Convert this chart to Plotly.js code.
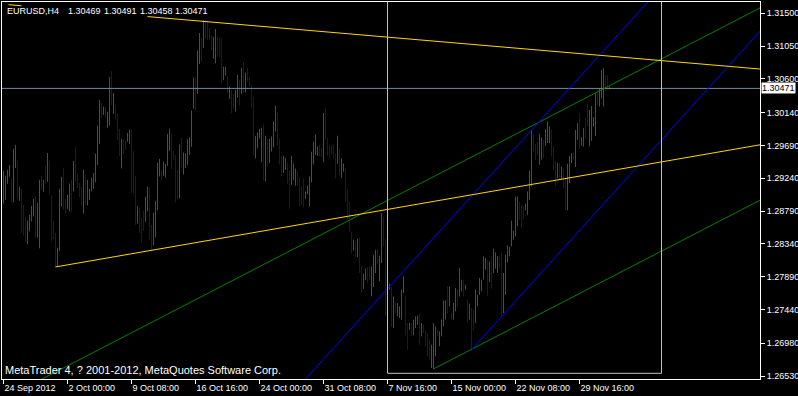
<!DOCTYPE html>
<html><head><meta charset="utf-8">
<script src="https://cdn.plot.ly/plotly-3.0.1.min.js"></script>
<style>html,body{margin:0;padding:0;background:#000;overflow:hidden}</style>
</head><body><div id="chart" style="width:798px;height:396px"></div>
<script>
// ---- data: H4 bars (index 0 = 24 Sep 2012), high / low, direction (1 = up/red, 0 = down/blue)
const highs = [
1.29342,1.29274,1.29356,1.29424,1.29233,1.29643,1.29698,1.29479,1.29123,1.29096,
1.28877,1.28713,1.28658,1.28740,1.28863,1.28959,1.28991,1.28904,1.29219,1.29274,
1.29219,1.29411,1.29588,1.29479,1.29000,1.28658,1.28494,1.28289,1.29096,1.29260,
1.29383,1.28959,1.29014,1.29164,1.29219,1.29479,1.29670,1.29301,1.29178,1.29123,
1.29356,1.29287,1.29219,1.29096,1.29246,1.29315,1.29579,1.29962,1.30313,1.30272,
1.30222,1.30218,1.30149,1.30628,1.30710,1.30409,1.30245,1.30122,1.29917,1.29780,
1.29767,1.29753,1.29862,1.29903,1.29903,1.29616,1.29274,1.28864,1.28836,1.28700,
1.28795,1.28987,1.29124,1.29110,1.28604,1.28768,1.28932,1.29452,1.29507,1.29356,
1.29466,1.29438,1.29849,1.29922,1.29849,1.29616,1.29561,1.29356,1.29703,1.29794,
1.29593,1.29580,1.29771,1.29799,1.30168,1.30619,1.30619,1.30989,1.31230,1.31167,
1.31408,1.31408,1.31395,1.31299,1.31189,1.31180,1.31285,1.31180,1.31167,1.31162,
1.30770,1.30765,1.30642,1.30496,1.30451,1.30382,1.30451,1.30656,1.30587,1.30752,
1.30834,1.30688,1.30752,1.30624,1.30524,1.30355,1.29821,1.29867,1.29917,1.29931,
1.29972,1.29821,1.29780,1.29780,1.29812,1.30017,1.30232,1.30141,1.29780,1.29539,
1.29548,1.29520,1.29457,1.29347,1.29548,1.29443,1.29374,1.29347,1.29247,1.29128,
1.29238,1.29060,1.29137,1.29265,1.29602,1.29739,1.29840,1.29675,1.29698,1.29662,
1.30136,1.30209,1.29789,1.29694,1.29698,1.29707,1.29575,1.29821,1.29643,1.29511,
1.29443,1.29384,1.29087,1.28918,1.28508,1.28399,1.28380,1.28408,1.28426,1.28034,
1.27933,1.28006,1.28023,1.28032,1.28032,1.28192,1.28260,1.28270,1.28178,1.28762,
1.28716,1.28406,1.27804,1.27795,1.27750,1.27622,1.27544,1.27531,1.27485,1.27713,
1.27896,1.27622,1.27257,1.27257,1.27257,1.27303,1.27348,1.27358,1.27385,1.27257,
1.27234,1.27143,1.27120,1.27029,1.26961,1.27257,1.27212,1.27166,1.27143,1.27303,
1.27567,1.27567,1.27759,1.27759,1.27394,1.27531,1.27736,1.27713,1.28010,1.27850,
1.27850,1.27782,1.27576,1.27522,1.27462,1.27440,1.27713,1.27645,1.27873,1.27850,
1.28169,1.28146,1.28124,1.28102,1.28171,1.28275,1.28225,1.28171,1.28171,1.28216,
1.27943,1.28193,1.28317,1.28298,1.28659,1.28522,1.28991,1.28991,1.28918,1.28877,
1.28855,1.28891,1.29060,1.29343,1.29903,1.29835,1.29712,1.29744,1.29849,1.29799,
1.29767,1.29913,1.30017,1.29949,1.29913,1.29685,1.29470,1.29447,1.29447,1.29402,
1.29365,1.29265,1.29438,1.29548,1.29584,1.29593,1.29903,1.29995,1.30131,1.29803,
1.29926,1.30063,1.30268,1.30177,1.30232,1.30077,1.30405,1.30441,1.30469,1.30724,
1.30747,1.30656,1.30647,1.30491];
const lows = [
1.28895,1.28945,1.29164,1.29260,1.28909,1.28909,1.29379,1.28959,1.28932,1.28494,
1.28453,1.28362,1.28334,1.28512,1.28649,1.28717,1.28430,1.28430,1.28280,1.29082,
1.29055,1.29164,1.29192,1.29014,1.28375,1.28398,1.28020,1.28029,1.28239,1.28854,
1.28809,1.28745,1.28822,1.28786,1.28781,1.29059,1.29196,1.29110,1.28986,1.28877,
1.28758,1.28877,1.28868,1.28945,1.29059,1.29096,1.29183,1.29424,1.29711,1.30063,
1.30108,1.30058,1.29935,1.29962,1.30245,1.30122,1.30040,1.29766,1.29547,1.29374,
1.29575,1.29630,1.29739,1.29712,1.29046,1.29032,1.28604,1.28617,1.28494,1.28362,
1.28517,1.28645,1.28786,1.28399,1.28253,1.28321,1.28431,1.28800,1.29265,1.29210,
1.29274,1.29251,1.29411,1.29612,1.29370,1.29493,1.28909,1.28950,1.28969,1.29384,
1.29292,1.29379,1.29425,1.29561,1.29671,1.30195,1.30168,1.30396,1.30806,1.30829,
1.31025,1.31153,1.31130,1.31135,1.30998,1.30879,1.30815,1.30907,1.30897,1.30551,
1.30583,1.30647,1.30405,1.30327,1.30127,1.30195,1.30154,1.30346,1.30236,1.30396,
1.30410,1.30414,1.30565,1.30496,1.30209,1.29552,1.29511,1.29648,1.29785,1.29457,
1.29210,1.29197,1.29402,1.29447,1.29607,1.29662,1.29881,1.29685,1.29429,1.29265,
1.29311,1.29356,1.29165,1.28827,1.29146,1.29210,1.29137,1.29137,1.28855,1.28877,
1.28841,1.28959,1.29019,1.28855,1.29183,1.29429,1.29557,1.29548,1.29539,1.29529,
1.29461,1.29767,1.29548,1.29520,1.29561,1.29511,1.29238,1.29438,1.29279,1.29242,
1.29329,1.28918,1.28672,1.28508,1.28212,1.28248,1.28157,1.28161,1.27943,1.27669,
1.27724,1.27842,1.27814,1.27850,1.27622,1.27750,1.27941,1.28069,1.27827,1.28078,
1.28306,1.27348,1.27462,1.27713,1.27202,1.27189,1.27394,1.27348,1.27326,1.27303,
1.27668,1.27088,1.26892,1.27166,1.27075,1.27088,1.27189,1.27234,1.26961,1.27075,
1.27120,1.26938,1.26801,1.26756,1.26642,1.26628,1.26801,1.27075,1.26938,1.27075,
1.27212,1.27303,1.27394,1.27485,1.27303,1.27303,1.27417,1.27485,1.27622,1.27690,
1.27622,1.27713,1.27257,1.27303,1.26892,1.27166,1.27257,1.27485,1.27645,1.27690,
1.27850,1.27987,1.27622,1.27815,1.27724,1.27943,1.28002,1.27943,1.27997,1.27373,
1.27395,1.27646,1.28089,1.28171,1.28307,1.28399,1.28444,1.28581,1.28672,1.28558,
1.28681,1.28800,1.28741,1.28946,1.29128,1.29607,1.29493,1.29561,1.29425,1.29493,
1.29511,1.29685,1.29721,1.29721,1.29539,1.29356,1.29137,1.29242,1.29219,1.29219,
1.29105,1.28809,1.28800,1.29174,1.29447,1.29493,1.29393,1.29767,1.29653,1.29685,
1.29675,1.29785,1.29949,1.29675,1.29753,1.29949,1.29821,1.30245,1.30223,1.30337,
1.30223,1.30451,1.30460,1.30458];
const dirs = [
1,1,1,1,0,1,1,0,1,0, 0,0,1,1,1,1,0,1,1,0, 1,0,1,0,0,0,0,1,1,1, 0,0,1,1,0,1,0,0,0,0,
1,0,1,1,1,1,1,1,1,0, 1,0,1,1,0,1,0,0,0,1, 0,0,1,1,0,0,0,1,0,0, 0,1,1,0,0,1,1,1,1,0,
1,1,1,1,0,0,0,0,1,0, 1,1,1,1,1,1,0,1,1,0, 1,0,0,0,0,1,1,0,0,0, 1,1,0,1,0,0,1,1,0,1,
0,1,0,0,0,0,1,1,1,1, 0,1,0,1,1,1,1,0,0,0, 1,1,0,0,1,1,1,0,0,0, 0,1,1,1,1,1,1,1,0,0,
1,0,0,0,0,0,0,1,0,1, 1,0,0,0,0,1,0,1,0,0, 1,1,0,0,1,1,1,0,1,1, 0,0,1,1,0,1,0,1,1,1,
1,0,0,1,0,1,1,1,0,1, 0,0,0,0,1,1,1,0,1,1, 1,1,0,1,0,1,1,0,1,1, 0,1,0,1,0,0,1,1,1,1,
1,1,0,1,0,1,1,1,0,0, 1,1,1,1,1,1,1,1,0,0, 0,1,1,1,1,0,0,0,1,1, 0,1,1,1,0,0,0,1,0,1,
0,0,1,1,1,0,1,1,0,1, 1,0,0,1,1,1,1,0,1,1, 1,0,0,1];

const xTickIdx  = [0,32,64,96,128,160,192,224,256,288];
const xTickText = ['24 Sep 2012','2 Oct 00:00','9 Oct 08:00','16 Oct 16:00','24 Oct 00:00',
                   '31 Oct 08:00','7 Nov 16:00','15 Nov 00:00','22 Nov 08:00','29 Nov 16:00'];
const yTickVals = [1.31500,1.31050,1.30600,1.30140,1.29690,1.29240,1.28790,1.28340,1.27890,1.27440,1.26980,1.26530];
const quoteOHLC = [1.30469,1.30491,1.30458,1.30471];
const symbol = 'EURUSD,H4';
const copyright = 'MetaTrader 4, ? 2001-2012, MetaQuotes Software Corp.';

// trend line anchors: [bar1, price1, bar2, price2]
const goldLow   = [26, 1.28025, 74, 1.28253];
const goldHigh  = [72, 1.31455, 300, 1.30920];
const greenLow  = [215, 1.26628, 338, 1.28370];
const greenHigh = [215, 1.29262, 338, 1.31004];
const blueLow   = [234, 1.26892, 338, 1.30038];
const blueHigh  = [238, 1.29116, 300, 1.30987];
const rectBars  = [192, 329];
const rectLow   = 1.26568;

// ---- build
const X0 = -0.75, X1 = 378.25;
const Y0 = 1.2648991, Y1 = 1.3165481;
function seg(a, from, to) {
  const s = (a[3] - a[1]) / (a[2] - a[0]);
  return {x: [from, to], y: [a[1] + (from - a[0]) * s, a[1] + (to - a[0]) * s]};
}
function lineTrace(pts, color) {
  return {type: 'scatter', mode: 'lines', x: pts.x, y: pts.y, line: {color: color, width: 1}, hoverinfo: 'skip'};
}
const upX = [], upY = [], dnX = [], dnY = [];
for (let i = 0; i < highs.length; i++) {
  const X = dirs[i] ? upX : dnX, Y = dirs[i] ? upY : dnY;
  X.push(i, i, null); Y.push(lows[i], highs[i], null);
}
const traces = [
  {type: 'scatter', mode: 'lines', x: upX, y: upY, line: {color: '#ff0000', width: 1}, hoverinfo: 'skip'},
  {type: 'scatter', mode: 'lines', x: dnX, y: dnY, line: {color: '#0000ff', width: 1}, hoverinfo: 'skip'},
  lineTrace({x: [X0, X1], y: [quoteOHLC[3], quoteOHLC[3]]}, '#778899'),
  lineTrace(seg(greenHigh, X0, X1), '#008000'),
  lineTrace(seg(greenLow, greenLow[0], X1), '#008000'),
  lineTrace(seg(blueHigh, X0, X1), '#0000ff'),
  lineTrace(seg(blueLow, blueLow[0], X1), '#0000ff'),
  lineTrace(seg(goldLow, goldLow[0], X1), '#ffd700'),
  lineTrace(seg(goldHigh, goldHigh[0], X1), '#ffd700'),
  lineTrace(seg(goldHigh, 2.5, 9), '#ffd700')
];
const FAM = 'Liberation Sans, Arial, sans-serif';
const font = {family: FAM, size: 9, color: '#ffffff'};
const headerTokens = [symbol].concat(quoteOHLC.map(v => v.toFixed(5)));
const headerShift = [3, 64, 99.5, 135.5, 171];
const headerAnn = headerTokens.map((t, k) => ({
  xref: 'paper', yref: 'paper', x: 0, y: 1, xanchor: 'left', yanchor: 'top', xshift: headerShift[k], yshift: -2,
  text: t, showarrow: false, font: font}));
const layout = {
  width: 798, height: 396, margin: {l: 2, r: 38, t: 2, b: 17},
  paper_bgcolor: '#000000', plot_bgcolor: '#000000', showlegend: false, hovermode: false,
  font: font,
  xaxis: {range: [X0, X1], showgrid: false, zeroline: false, showline: true, mirror: true,
    linecolor: '#ffffff', linewidth: 1, ticks: 'outside', ticklen: 4, tickcolor: '#ffffff', tickwidth: 1,
    tickmode: 'array', tickvals: xTickIdx, ticktext: xTickText, ticklabelposition: 'outside right',
    tickfont: font, fixedrange: true},
  yaxis: {side: 'right', range: [Y0, Y1], showgrid: false, zeroline: false, showline: true, mirror: true,
    linecolor: '#ffffff', linewidth: 1, ticks: 'outside', ticklen: 4, tickcolor: '#ffffff', tickwidth: 1,
    tickmode: 'array', tickvals: yTickVals, ticktext: yTickVals.map(v => v.toFixed(5)),
    tickfont: font, fixedrange: true},
  shapes: [
    {type: 'rect', xref: 'x', yref: 'y', x0: rectBars[0], x1: rectBars[1], y0: rectLow, y1: 1.3300,
     line: {color: '#c0c0c0', width: 1}, fillcolor: 'rgba(0,0,0,0)', layer: 'above'}
  ],
  annotations: headerAnn.concat([
    {xref: 'paper', yref: 'paper', x: 0, y: 0, xanchor: 'left', yanchor: 'bottom', xshift: 1, yshift: 1,
     text: copyright, showarrow: false, font: {family: FAM, size: 11, color: '#ffffff'}},
    {xref: 'paper', yref: 'y', x: 1, y: quoteOHLC[3], xanchor: 'left', yanchor: 'middle', xshift: 1,
     text: quoteOHLC[3].toFixed(5), showarrow: false, bgcolor: '#ffffff', borderpad: 0,
     font: {family: FAM, size: 9, color: '#000000'}}
  ])
};
Plotly.newPlot('chart', traces, layout, {staticPlot: true, displayModeBar: false});
</script></body></html>
